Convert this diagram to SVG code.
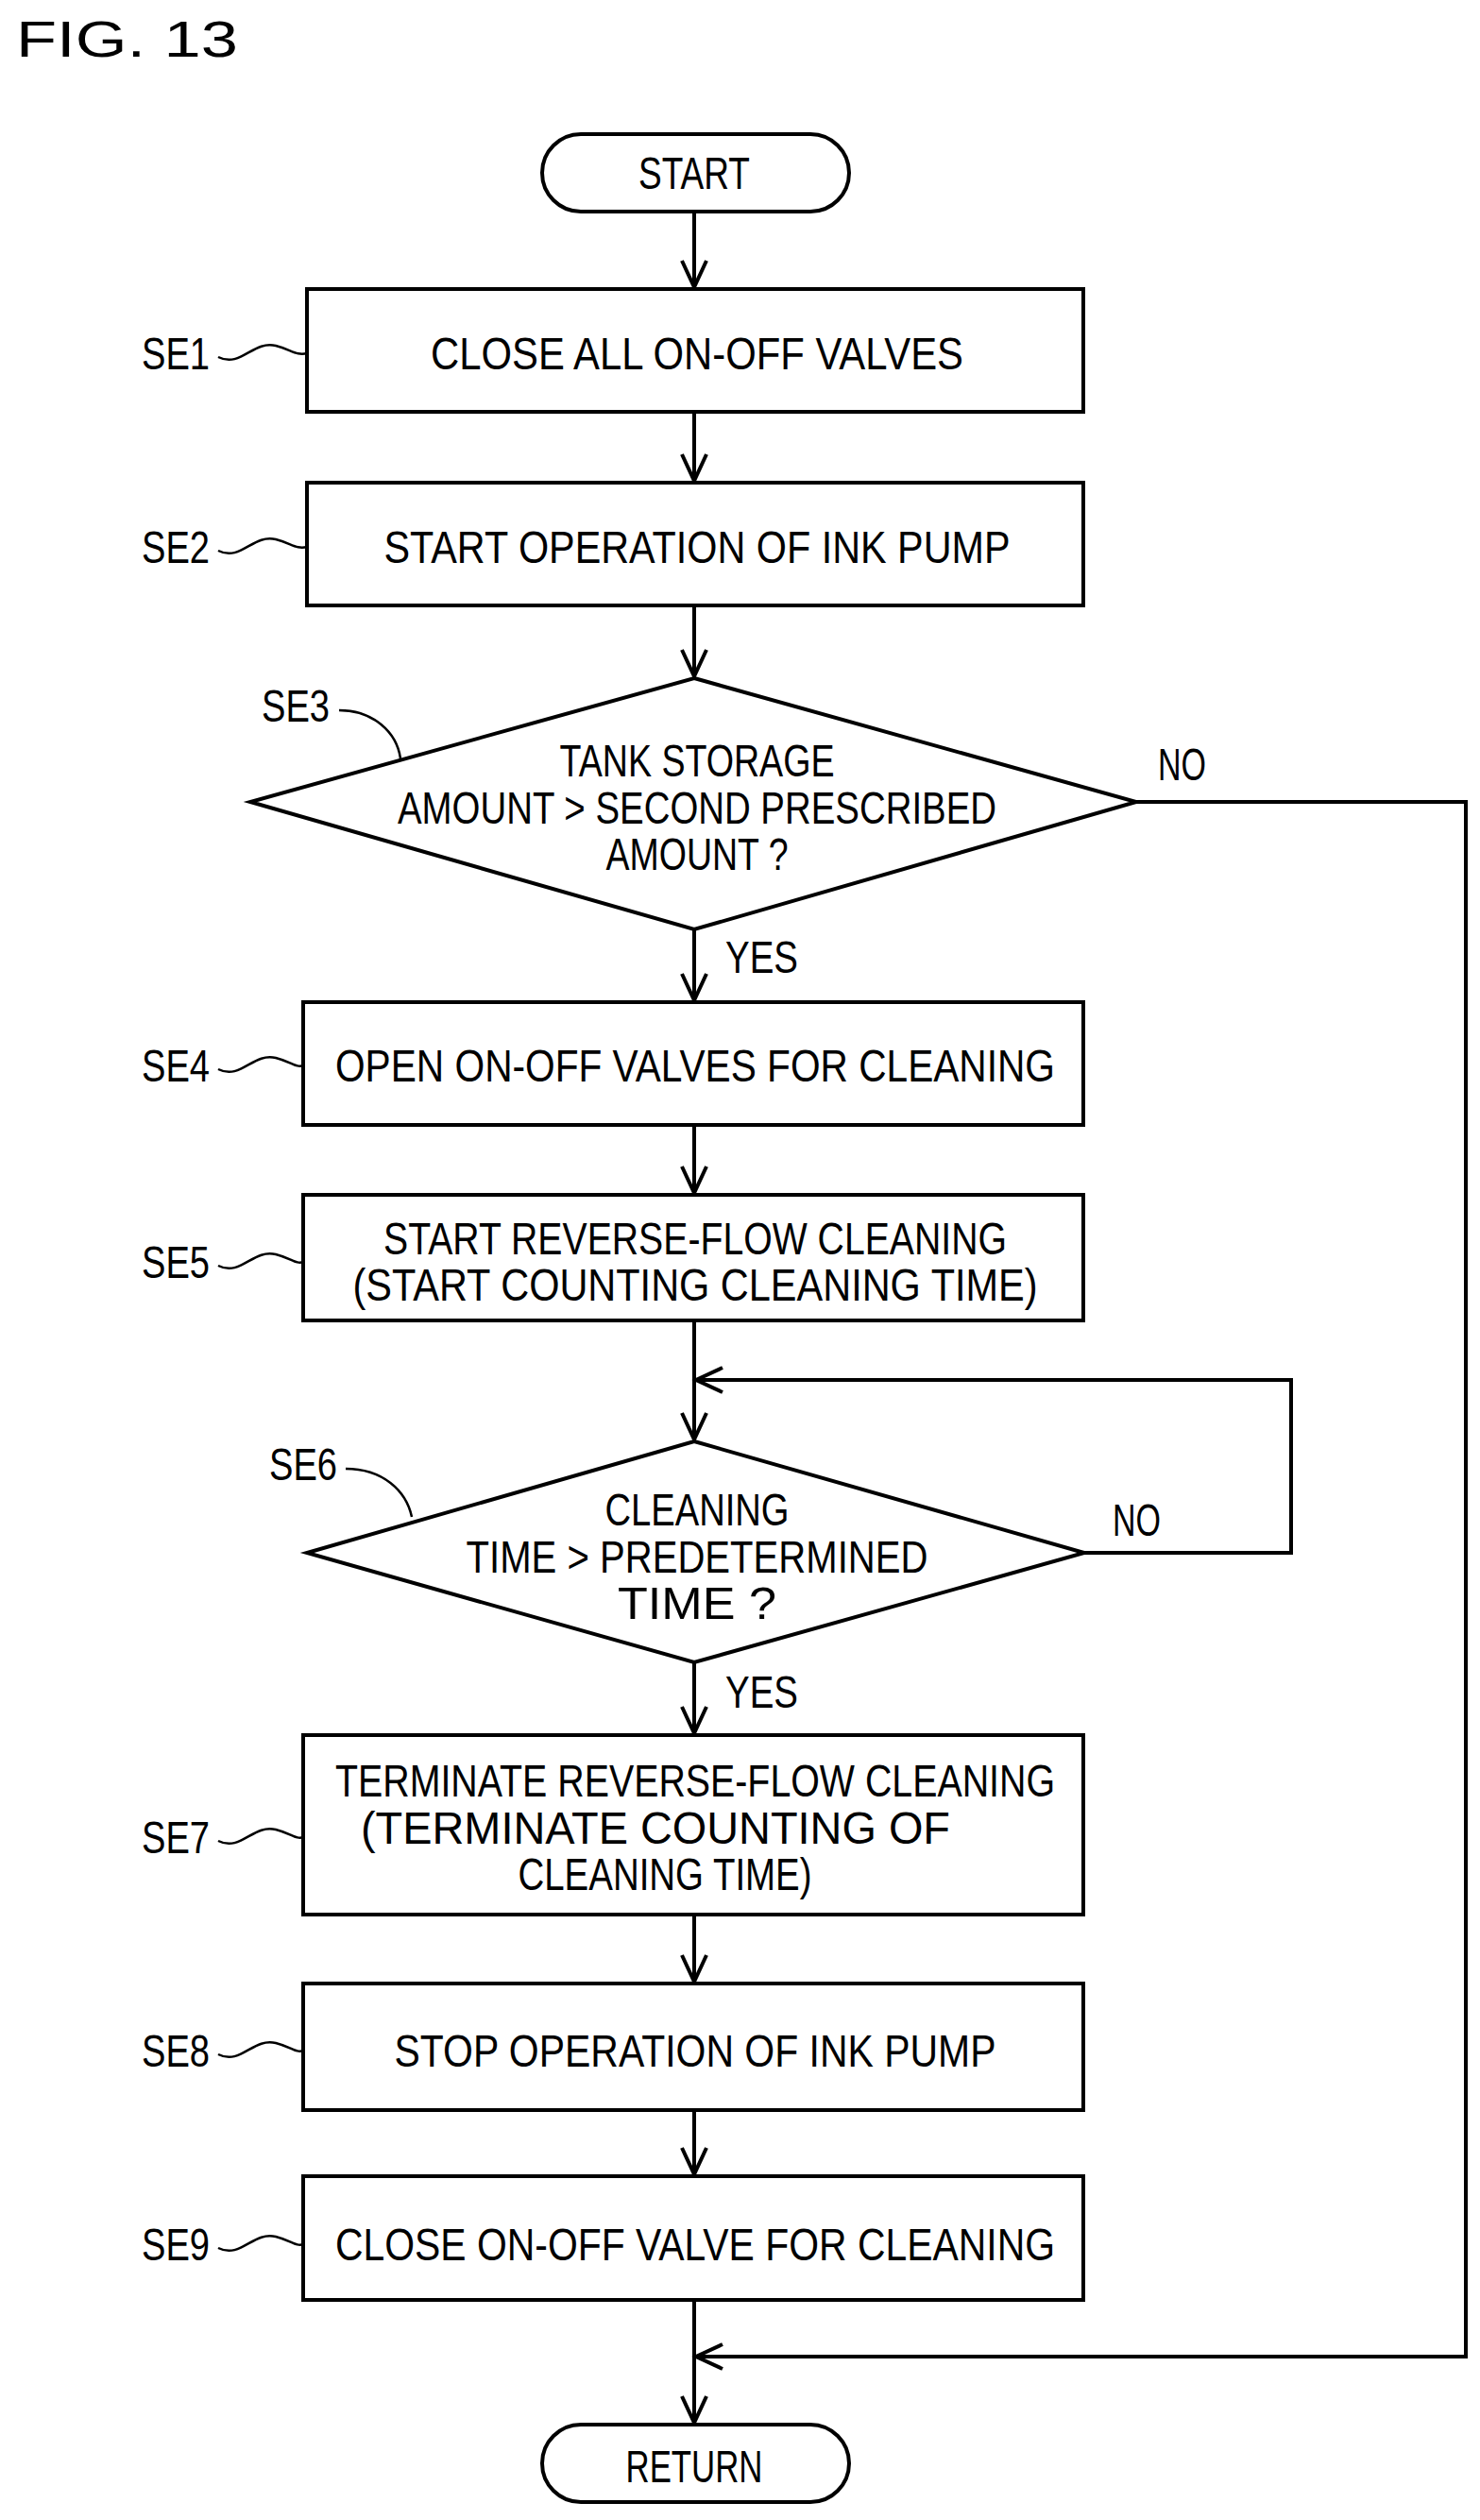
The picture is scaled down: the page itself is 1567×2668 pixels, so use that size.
<svg xmlns="http://www.w3.org/2000/svg" width="1567" height="2668" viewBox="0 0 1567 2668">
<style>
.s{fill:#fff;stroke:#000;stroke-width:4}
.t{font-family:"Liberation Sans",Arial,sans-serif;font-size:48px;fill:#000;text-anchor:middle}
.l{font-family:"Liberation Sans",Arial,sans-serif;font-size:48px;fill:#000}
.c{fill:none;stroke:#000;stroke-width:4}
.q{fill:none;stroke:#000;stroke-width:2.5}
</style>
<defs>
<marker id="a" markerUnits="userSpaceOnUse" markerWidth="40" markerHeight="40" refX="30" refY="15" orient="auto" viewBox="0 0 40 40">
<polyline points="2,2 30,15 2,28" fill="none" stroke="#000" stroke-width="4"/>
</marker>
</defs>
<text x="17" y="60" font-family="Liberation Sans,Arial,sans-serif" font-size="54" textLength="235" lengthAdjust="spacingAndGlyphs">FIG. 13</text>
<g id="connectors">
<line class="c" x1="735" y1="224" x2="735" y2="304" marker-end="url(#a)"/>
<line class="c" x1="735" y1="436" x2="735" y2="509" marker-end="url(#a)"/>
<line class="c" x1="735" y1="641" x2="735" y2="716" marker-end="url(#a)"/>
<line class="c" x1="735" y1="984" x2="735" y2="1059" marker-end="url(#a)"/>
<line class="c" x1="735" y1="1191" x2="735" y2="1263" marker-end="url(#a)"/>
<line class="c" x1="735" y1="1398" x2="735" y2="1524" marker-end="url(#a)"/>
<polyline class="c" points="1148,1644 1367,1644 1367,1461 737,1461" marker-end="url(#a)"/>
<line class="c" x1="735" y1="1760" x2="735" y2="1835" marker-end="url(#a)"/>
<line class="c" x1="735" y1="2027" x2="735" y2="2098" marker-end="url(#a)"/>
<line class="c" x1="735" y1="2234" x2="735" y2="2302" marker-end="url(#a)"/>
<line class="c" x1="735" y1="2435" x2="735" y2="2565" marker-end="url(#a)"/>
<polyline class="c" points="1203,849 1552,849 1552,2495 737,2495" marker-end="url(#a)"/>
<text class="l" x="1226" y="826" textLength="51" lengthAdjust="spacingAndGlyphs">NO</text>
<text class="l" x="768" y="1030" textLength="77" lengthAdjust="spacingAndGlyphs">YES</text>
<text class="l" x="1178" y="1626" textLength="51" lengthAdjust="spacingAndGlyphs">NO</text>
<text class="l" x="768" y="1808" textLength="77" lengthAdjust="spacingAndGlyphs">YES</text>
</g>
<g id="start"><rect class="s" x="574" y="142" width="325" height="82" rx="41"/><text class="t" x="735" y="200" textLength="118" lengthAdjust="spacingAndGlyphs">START</text></g>
<g id="SE1"><rect class="s" x="325" y="306" width="822" height="130"/><text class="t" x="738" y="391" textLength="564" lengthAdjust="spacingAndGlyphs">CLOSE ALL ON-OFF VALVES</text>
<text class="l" x="150" y="391" textLength="72" lengthAdjust="spacingAndGlyphs">SE1</text><path class="q" d="M231,378 C255,390 268,360 292,366 C308,370 314,377 325,374"/></g>
<g id="SE2"><rect class="s" x="325" y="511" width="822" height="130"/><text class="t" x="738" y="596" textLength="663" lengthAdjust="spacingAndGlyphs">START OPERATION OF INK PUMP</text>
<text class="l" x="150" y="596" textLength="72" lengthAdjust="spacingAndGlyphs">SE2</text><path class="q" d="M231,583 C255,595 268,565 292,571 C308,575 314,582 325,579"/></g>
<g id="SE3"><polygon class="s" points="735,718 1203,849 735,984 265,849"/>
<text class="t" x="738" y="822" textLength="291" lengthAdjust="spacingAndGlyphs">TANK STORAGE</text>
<text class="t" x="738" y="872" textLength="634" lengthAdjust="spacingAndGlyphs">AMOUNT &gt; SECOND PRESCRIBED</text>
<text class="t" x="738" y="921" textLength="193" lengthAdjust="spacingAndGlyphs">AMOUNT ?</text>
<text class="l" x="277" y="764" textLength="72" lengthAdjust="spacingAndGlyphs">SE3</text><path class="q" d="M359,752 C395,752 420,775 424,803"/></g>
<g id="SE4"><rect class="s" x="321" y="1061" width="826" height="130"/><text class="t" x="736" y="1145" textLength="762" lengthAdjust="spacingAndGlyphs">OPEN ON-OFF VALVES FOR CLEANING</text>
<text class="l" x="150" y="1145" textLength="72" lengthAdjust="spacingAndGlyphs">SE4</text><path class="q" d="M231,1132 C255,1144 268,1114 292,1120 C308,1124 314,1131 321,1128"/></g>
<g id="SE5"><rect class="s" x="321" y="1265" width="826" height="133"/>
<text class="t" x="736" y="1328" textLength="660" lengthAdjust="spacingAndGlyphs">START REVERSE-FLOW CLEANING</text>
<text class="t" x="736" y="1377" textLength="725" lengthAdjust="spacingAndGlyphs">(START COUNTING CLEANING TIME)</text>
<text class="l" x="150" y="1353" textLength="72" lengthAdjust="spacingAndGlyphs">SE5</text><path class="q" d="M231,1340 C255,1352 268,1322 292,1328 C308,1332 314,1339 321,1336"/></g>
<g id="SE6"><polygon class="s" points="735,1526 1148,1644 735,1760 325,1644"/>
<text class="t" x="738" y="1615" textLength="195" lengthAdjust="spacingAndGlyphs">CLEANING</text>
<text class="t" x="738" y="1665" textLength="489" lengthAdjust="spacingAndGlyphs">TIME &gt; PREDETERMINED</text>
<text class="t" x="738" y="1714" textLength="168" lengthAdjust="spacingAndGlyphs">TIME ?</text>
<text class="l" x="285" y="1567" textLength="72" lengthAdjust="spacingAndGlyphs">SE6</text><path class="q" d="M366,1555 C405,1555 430,1578 436,1606"/></g>
<g id="SE7"><rect class="s" x="321" y="1837" width="826" height="190"/>
<text class="t" x="736" y="1902" textLength="762" lengthAdjust="spacingAndGlyphs">TERMINATE REVERSE-FLOW CLEANING</text>
<text class="t" x="694" y="1952" textLength="624" lengthAdjust="spacingAndGlyphs">(TERMINATE COUNTING OF</text>
<text class="t" x="704" y="2001" textLength="311" lengthAdjust="spacingAndGlyphs">CLEANING TIME)</text>
<text class="l" x="150" y="1962" textLength="72" lengthAdjust="spacingAndGlyphs">SE7</text><path class="q" d="M231,1949 C255,1961 268,1931 292,1937 C308,1941 314,1948 321,1945"/></g>
<g id="SE8"><rect class="s" x="321" y="2100" width="826" height="134"/><text class="t" x="736" y="2188" textLength="637" lengthAdjust="spacingAndGlyphs">STOP OPERATION OF INK PUMP</text>
<text class="l" x="150" y="2188" textLength="72" lengthAdjust="spacingAndGlyphs">SE8</text><path class="q" d="M231,2175 C255,2187 268,2157 292,2163 C308,2167 314,2174 321,2171"/></g>
<g id="SE9"><rect class="s" x="321" y="2304" width="826" height="131"/><text class="t" x="736" y="2393" textLength="762" lengthAdjust="spacingAndGlyphs">CLOSE ON-OFF VALVE FOR CLEANING</text>
<text class="l" x="150" y="2393" textLength="72" lengthAdjust="spacingAndGlyphs">SE9</text><path class="q" d="M231,2380 C255,2392 268,2362 292,2368 C308,2372 314,2379 321,2376"/></g>
<g id="return"><rect class="s" x="574" y="2567" width="325" height="82" rx="41"/><text class="t" x="735" y="2628" textLength="145" lengthAdjust="spacingAndGlyphs">RETURN</text></g>
</svg>
